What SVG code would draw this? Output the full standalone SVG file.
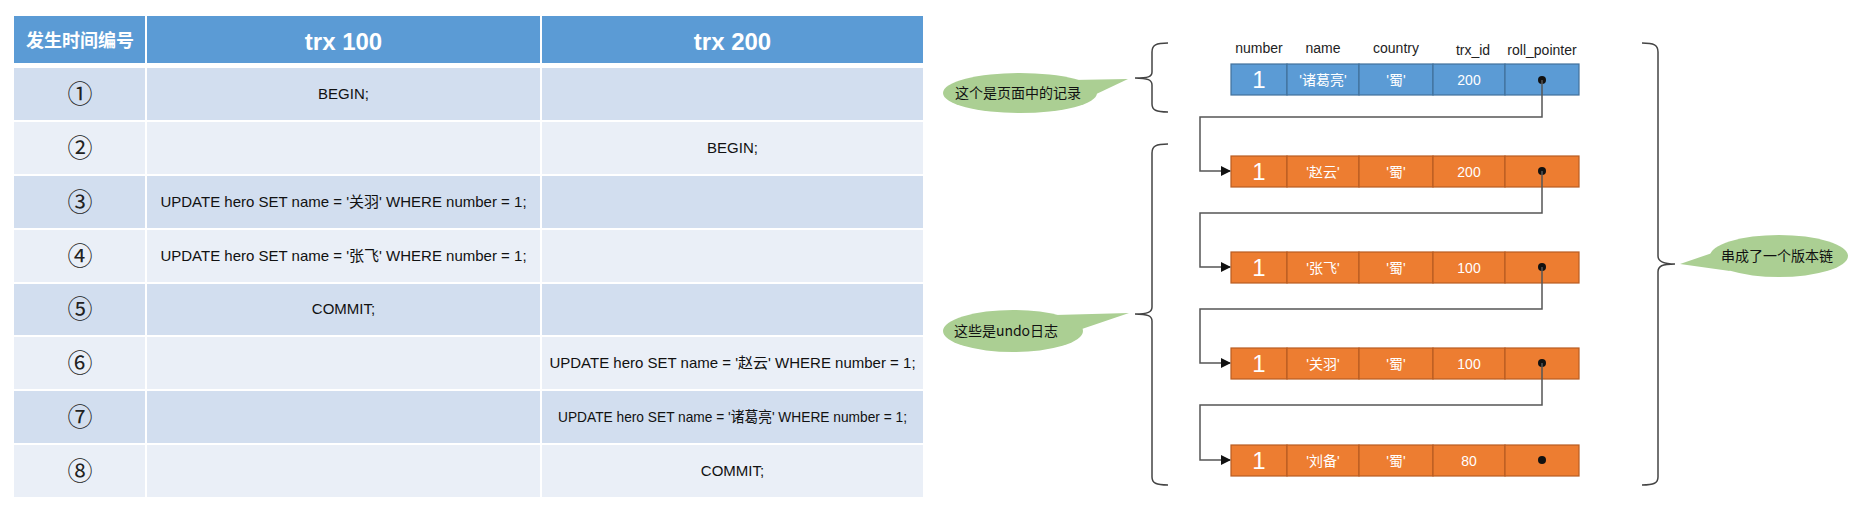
<svg xmlns="http://www.w3.org/2000/svg" width="1862" height="511" viewBox="0 0 1862 511">
<style>
.hdr{fill:#5B9BD5}
.r1{fill:#D2DEEF}
.r2{fill:#EAEFF7}
.ht{font-family:"Liberation Sans","Noto Sans CJK SC",sans-serif;font-weight:bold;fill:#fff;text-anchor:middle}
.ct{font-family:"Liberation Sans","Noto Sans CJK SC",sans-serif;font-size:15px;fill:#111;text-anchor:middle}
.cn{font-family:"Noto Sans CJK SC","DejaVu Sans",sans-serif;font-size:25px;fill:#222;text-anchor:middle}
.blue{fill:#5B9BD5;stroke:#41719C;stroke-width:1.2}
.org{fill:#ED7D31;stroke:#B85C22;stroke-width:1.2}
.rt{font-family:"Liberation Sans","Noto Sans CJK SC",sans-serif;font-size:14px;fill:#fff;text-anchor:middle}
.one{font-family:"Liberation Sans",sans-serif;font-size:24px;fill:#fff;text-anchor:middle}
.lab{font-family:"Liberation Sans",sans-serif;font-size:14px;fill:#222;text-anchor:middle}
.conn{fill:none;stroke:#555;stroke-width:1.5}
.brace{fill:none;stroke:#444;stroke-width:1.5}
.bub{fill:#ABCF93}
.bt{font-family:"Noto Sans CJK SC","Liberation Sans",sans-serif;font-size:14px;fill:#111;text-anchor:middle}
</style>
<defs>
<marker id="arr" markerWidth="10" markerHeight="10" refX="9" refY="5" orient="auto" markerUnits="userSpaceOnUse">
<path d="M0,0 L10,5 L0,10 z" fill="#111"/>
</marker>
</defs>
<rect width="1862" height="511" fill="#fff"/>

<g id="table">
<rect class="hdr" x="14" y="16" width="131" height="47"/>
<rect class="hdr" x="147" y="16" width="393" height="47"/>
<rect class="hdr" x="542" y="16" width="381" height="47"/>
<text class="ht" x="80" y="47" font-size="18">发生时间编号</text>
<text class="ht" x="343.5" y="50" font-size="24">trx 100</text>
<text class="ht" x="732.5" y="50" font-size="24">trx 200</text>

<g id="row1">
<rect class="r1" x="14" y="68" width="131" height="52"/><rect class="r1" x="147" y="68" width="393" height="52"/><rect class="r1" x="542" y="68" width="381" height="52"/>
<text class="cn" x="80" y="103">①</text>
<text class="ct" x="343.5" y="99">BEGIN;</text>
</g>
<g id="row2">
<rect class="r2" x="14" y="122" width="131" height="52"/><rect class="r2" x="147" y="122" width="393" height="52"/><rect class="r2" x="542" y="122" width="381" height="52"/>
<text class="cn" x="80" y="157">②</text>
<text class="ct" x="732.5" y="153">BEGIN;</text>
</g>
<g id="row3">
<rect class="r1" x="14" y="176" width="131" height="52"/><rect class="r1" x="147" y="176" width="393" height="52"/><rect class="r1" x="542" y="176" width="381" height="52"/>
<text class="cn" x="80" y="211">③</text>
<text class="ct" x="343.5" y="207">UPDATE hero SET name = '关羽' WHERE number = 1;</text>
</g>
<g id="row4">
<rect class="r2" x="14" y="230" width="131" height="52"/><rect class="r2" x="147" y="230" width="393" height="52"/><rect class="r2" x="542" y="230" width="381" height="52"/>
<text class="cn" x="80" y="265">④</text>
<text class="ct" x="343.5" y="261">UPDATE hero SET name = '张飞' WHERE number = 1;</text>
</g>
<g id="row5">
<rect class="r1" x="14" y="284" width="131" height="51"/><rect class="r1" x="147" y="284" width="393" height="51"/><rect class="r1" x="542" y="284" width="381" height="51"/>
<text class="cn" x="80" y="318">⑤</text>
<text class="ct" x="343.5" y="314">COMMIT;</text>
</g>
<g id="row6">
<rect class="r2" x="14" y="337" width="131" height="52"/><rect class="r2" x="147" y="337" width="393" height="52"/><rect class="r2" x="542" y="337" width="381" height="52"/>
<text class="cn" x="80" y="372">⑥</text>
<text class="ct" x="732.5" y="368">UPDATE hero SET name = '赵云' WHERE number = 1;</text>
</g>
<g id="row7">
<rect class="r1" x="14" y="391" width="131" height="52"/><rect class="r1" x="147" y="391" width="393" height="52"/><rect class="r1" x="542" y="391" width="381" height="52"/>
<text class="cn" x="80" y="426">⑦</text>
<text class="ct" x="732.5" y="422" font-size="14" textLength="349" lengthAdjust="spacingAndGlyphs">UPDATE hero SET name = '诸葛亮' WHERE number = 1;</text>
</g>
<g id="row8">
<rect class="r2" x="14" y="445" width="131" height="52"/><rect class="r2" x="147" y="445" width="393" height="52"/><rect class="r2" x="542" y="445" width="381" height="52"/>
<text class="cn" x="80" y="480">⑧</text>
<text class="ct" x="732.5" y="476">COMMIT;</text>
</g>
</g>

<g id="labels">
<text class="lab" x="1259" y="53">number</text>
<text class="lab" x="1323" y="53">name</text>
<text class="lab" x="1396" y="53">country</text>
<text class="lab" x="1473" y="55">trx_id</text>
<text class="lab" x="1542" y="55">roll_pointer</text>
</g>

<g id="rec0">
<rect class="blue" x="1231" y="64" width="56" height="31"/>
<rect class="blue" x="1287" y="64" width="72" height="31"/>
<rect class="blue" x="1359" y="64" width="74" height="31"/>
<rect class="blue" x="1433" y="64" width="72" height="31"/>
<rect class="blue" x="1505" y="64" width="74" height="31"/>
<text class="one" x="1259" y="88">1</text>
<text class="rt" x="1323" y="85">'诸葛亮'</text>
<text class="rt" x="1396" y="85">'蜀'</text>
<text class="rt" x="1469" y="85">200</text>
<circle cx="1542" cy="80" r="4" fill="#111"/>
</g>

<g id="rec1">
<rect class="org" x="1231" y="156" width="56" height="31"/>
<rect class="org" x="1287" y="156" width="72" height="31"/>
<rect class="org" x="1359" y="156" width="74" height="31"/>
<rect class="org" x="1433" y="156" width="72" height="31"/>
<rect class="org" x="1505" y="156" width="74" height="31"/>
<text class="one" x="1259" y="180">1</text>
<text class="rt" x="1323" y="177">'赵云'</text>
<text class="rt" x="1396" y="177">'蜀'</text>
<text class="rt" x="1469" y="177">200</text>
<circle cx="1542" cy="171" r="4" fill="#111"/>
</g>

<g id="rec2">
<rect class="org" x="1231" y="252" width="56" height="31"/>
<rect class="org" x="1287" y="252" width="72" height="31"/>
<rect class="org" x="1359" y="252" width="74" height="31"/>
<rect class="org" x="1433" y="252" width="72" height="31"/>
<rect class="org" x="1505" y="252" width="74" height="31"/>
<text class="one" x="1259" y="276">1</text>
<text class="rt" x="1323" y="273">'张飞'</text>
<text class="rt" x="1396" y="273">'蜀'</text>
<text class="rt" x="1469" y="273">100</text>
<circle cx="1542" cy="267" r="4" fill="#111"/>
</g>

<g id="rec3">
<rect class="org" x="1231" y="348" width="56" height="31"/>
<rect class="org" x="1287" y="348" width="72" height="31"/>
<rect class="org" x="1359" y="348" width="74" height="31"/>
<rect class="org" x="1433" y="348" width="72" height="31"/>
<rect class="org" x="1505" y="348" width="74" height="31"/>
<text class="one" x="1259" y="372">1</text>
<text class="rt" x="1323" y="369">'关羽'</text>
<text class="rt" x="1396" y="369">'蜀'</text>
<text class="rt" x="1469" y="369">100</text>
<circle cx="1542" cy="363" r="4" fill="#111"/>
</g>

<g id="rec4">
<rect class="org" x="1231" y="445" width="56" height="31"/>
<rect class="org" x="1287" y="445" width="72" height="31"/>
<rect class="org" x="1359" y="445" width="74" height="31"/>
<rect class="org" x="1433" y="445" width="72" height="31"/>
<rect class="org" x="1505" y="445" width="74" height="31"/>
<text class="one" x="1259" y="469">1</text>
<text class="rt" x="1323" y="466">'刘备'</text>
<text class="rt" x="1396" y="466">'蜀'</text>
<text class="rt" x="1469" y="466">80</text>
<circle cx="1542" cy="460" r="4" fill="#111"/>
</g>

<g id="connectors">
<path class="conn" d="M1542,80 V117 H1200 V171 H1230" marker-end="url(#arr)"/>
<path class="conn" d="M1542,171 V213 H1200 V267 H1230" marker-end="url(#arr)"/>
<path class="conn" d="M1542,267 V309 H1200 V363 H1230" marker-end="url(#arr)"/>
<path class="conn" d="M1542,363 V405 H1200 V460 H1230" marker-end="url(#arr)"/>
</g>

<g id="braces">
<path class="brace" d="M1168,43 C1156,43 1152,45 1152,52 L1152,72 C1152,77 1148,78 1135,78 C1148,78 1152,80 1152,85 L1152,104 C1152,110 1156,112 1168,112"/>
<path class="brace" d="M1168,144 C1156,144 1152,146 1152,153 L1152,307 C1152,312 1148,314 1135,314 C1148,314 1152,316 1152,321 L1152,477 C1152,483 1156,485 1168,485"/>
<path class="brace" d="M1642,43 C1654,43 1658,45 1658,52 L1658,256 C1658,261 1662,264 1675,264 C1662,264 1658,266 1658,272 L1658,477 C1658,483 1654,485 1642,485"/>
</g>

<g id="bubble1">
<ellipse class="bub" cx="1020" cy="93" rx="77" ry="20"/>
<path class="bub" d="M1072,80 L1128,79 L1090,97 z"/>
<text class="bt" x="1018" y="98">这个是页面中的记录</text>
</g>
<g id="bubble2">
<ellipse class="bub" cx="1013" cy="331" rx="70" ry="21"/>
<path class="bub" d="M1055,315 L1129,313 L1076,331 z"/>
<text class="bt" x="1006" y="336">这些是undo日志</text>
</g>
<g id="bubble3">
<ellipse class="bub" cx="1779" cy="256" rx="69" ry="21"/>
<path class="bub" d="M1718,251 L1680,264 L1730,271 z"/>
<text class="bt" x="1777" y="261">串成了一个版本链</text>
</g>
</svg>
